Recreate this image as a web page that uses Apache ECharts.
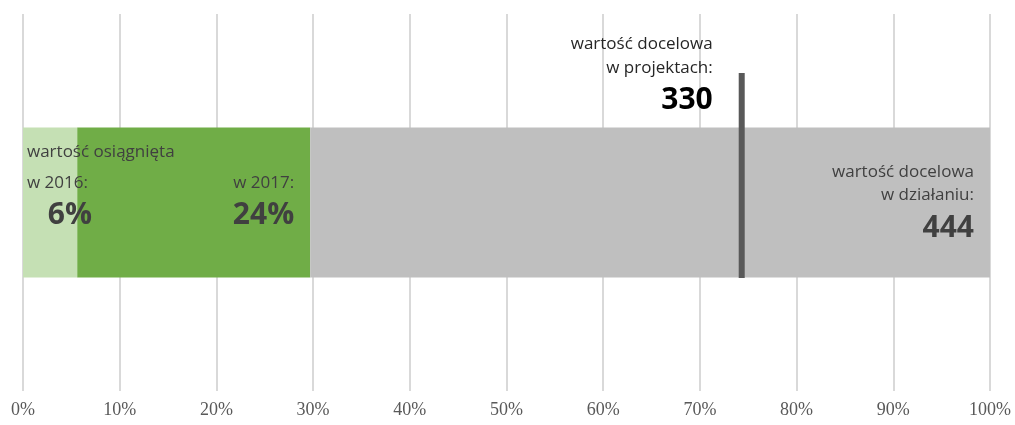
<!DOCTYPE html>
<html>
<head>
<meta charset="utf-8">
<script src="https://cdn.jsdelivr.net/npm/echarts@6/dist/echarts.min.js"></script>
<style>
  html, body { margin: 0; padding: 0; background: #fff; }
  #chart { width: 1015px; height: 425px; }
</style>
</head>
<body>
<div id="chart"></div>
<script>
  // dane wskaźnika (udział w wartości docelowej w działaniu, %)
  var categories = ['wskaźnik'];
  var share2016 = [5.6];
  var share2017 = [24.1];
  var shareRest = [70.3];
  var targetProjects = [330];
  var targetAction = [444];
  var targetShare = [targetProjects[0] / targetAction[0] * 100];

  var font = 'Open Sans';
  var small = { fontFamily: font, fontSize: 17, color: '#404040' };
  function big(extra) {
    return Object.assign({ fontFamily: font, fontSize: 30, fontWeight: 'bold', color: '#404040' }, extra);
  }

  var chart = echarts.init(document.getElementById('chart'));
  chart.setOption({
    animation: false,
    grid: { left: 23, right: 25, top: 14, bottom: 34, outerBoundsMode: 'none' },
    xAxis: {
      type: 'value',
      min: 0,
      max: 100,
      interval: 10,
      axisLine: { show: false },
      axisTick: { show: false },
      axisLabel: {
        formatter: '{value}%',
        fontFamily: 'Liberation Serif',
        fontSize: 18,
        color: '#595959',
        margin: 10
      },
      splitLine: { lineStyle: { color: '#d9d9d9', width: 2 } }
    },
    yAxis: { type: 'category', data: categories, show: false },
    series: [
      {
        name: '2016',
        type: 'bar',
        stack: 'total',
        barWidth: 150,
        z: 3,
        data: share2016,
        itemStyle: { color: '#c5e0b4' },
        label: {
          show: true,
          position: [4, 9],
          align: 'left',
          verticalAlign: 'top',
          width: 65,
          formatter: function (p) {
            return '{s|wartość osiągnięta}\n{s|w 2016:}\n{b|' + Math.round(p.value) + '%}';
          },
          rich: {
            s: Object.assign({ lineHeight: 31 }, small),
            b: big({ lineHeight: 33, align: 'right' })
          }
        }
      },
      {
        name: '2017',
        type: 'bar',
        stack: 'total',
        data: share2017,
        itemStyle: { color: '#70ad47' },
        label: {
          show: true,
          position: ['100%', 40],
          offset: [-16, 0],
          align: 'right',
          verticalAlign: 'top',
          formatter: function (p) {
            return '{s|w 2017:}\n{b|' + Math.round(p.value) + '%}';
          },
          rich: {
            s: Object.assign({ lineHeight: 31 }, small),
            b: big({ lineHeight: 33 })
          }
        }
      },
      {
        name: 'pozostało',
        type: 'bar',
        stack: 'total',
        data: shareRest,
        itemStyle: { color: '#bfbfbf' },
        label: {
          show: true,
          position: ['100%', 33],
          offset: [-16, 0],
          align: 'right',
          verticalAlign: 'top',
          formatter: function () {
            return '{s|wartość docelowa}\n{s|w działaniu:}\n{b|' + targetAction[0] + '}';
          },
          rich: {
            s: Object.assign({ lineHeight: 23 }, small),
            b: big({ lineHeight: 43 })
          }
        }
      },
      {
        name: 'w projektach',
        type: 'scatter',
        silent: true,
        z: 4,
        data: [[targetShare[0], 0]],
        symbol: 'rect',
        symbolSize: [6, 205],
        symbolOffset: [0, -27],
        itemStyle: { color: '#595959', opacity: 1 },
        label: {
          show: true,
          position: [-26, -41],
          align: 'right',
          verticalAlign: 'top',
          formatter: function () {
            return '{s|wartość docelowa}\n{s|w projektach:}\n{b|' + targetProjects[0] + '}';
          },
          rich: {
            s: Object.assign({}, small, { lineHeight: 24, color: '#262626' }),
            b: big({ lineHeight: 40, color: '#000000' })
          }
        }
      }
    ]
  });
</script>
</body>
</html>
